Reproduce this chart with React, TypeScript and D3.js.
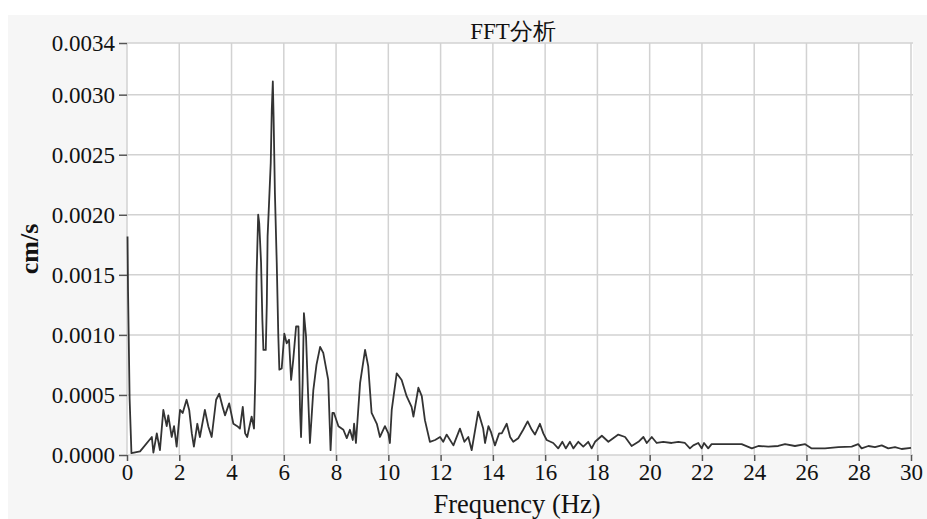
import React, { useEffect, useRef } from 'react';
import * as d3 from 'd3';

// frequency (Hz) and amplitude (cm/s)
const freq = [
  0.02, 0.04, 0.1, 0.17, 0.5, 0.95, 1.01, 1.14, 1.26, 1.39, 1.52, 1.58, 1.71, 1.8, 1.9, 2.03, 2.13, 2.28, 2.38, 2.48,
  2.56, 2.69, 2.79, 2.98, 3.11, 3.24, 3.41, 3.53, 3.66, 3.75, 3.91, 4.07, 4.22, 4.32, 4.43, 4.52, 4.6, 4.77, 4.86, 4.91,
  4.96, 5.02, 5.06, 5.13, 5.18, 5.22, 5.31, 5.35, 5.38, 5.43, 5.5, 5.54, 5.58, 5.61, 5.66, 5.73, 5.79, 5.83, 5.92, 6.02,
  6.11, 6.2, 6.28, 6.36, 6.47, 6.56, 6.62, 6.66, 6.72, 6.77, 6.85, 6.93, 7.0, 7.13, 7.25, 7.39, 7.51, 7.7, 7.79, 7.86,
  7.92, 8.09, 8.28, 8.41, 8.53, 8.64, 8.69, 8.76, 8.92, 9.11, 9.23, 9.36, 9.56, 9.68, 9.87, 10.0, 10.06, 10.13, 10.32, 10.51,
  10.7, 10.89, 10.96, 11.15, 11.28, 11.4, 11.59, 11.79, 11.98, 12.1, 12.23, 12.49, 12.74, 12.91, 13.06, 13.19, 13.44, 13.63, 13.7, 13.83,
  13.93, 14.08, 14.24, 14.34, 14.53, 14.66, 14.78, 14.97, 15.16, 15.33, 15.49, 15.61, 15.8, 15.93, 16.06, 16.31, 16.5, 16.66, 16.79, 16.95,
  17.08, 17.27, 17.46, 17.65, 17.78, 17.91, 18.17, 18.42, 18.8, 19.06, 19.31, 19.57, 19.76, 19.89, 20.08, 20.27, 20.52, 20.84, 21.1, 21.35,
  21.54, 21.67, 21.86, 21.99, 22.08, 22.24, 22.37, 22.88, 23.52, 23.91, 24.16, 24.54, 24.92, 25.18, 25.56, 25.95, 26.2, 26.71, 27.22, 27.73,
  27.98, 28.11, 28.37, 28.62, 28.88, 29.13, 29.39, 29.64, 30.0,
];
const amp = [
  18.2, 13.6, 4.7, 0.15, 0.3, 1.5, 0.2, 1.8, 0.4, 3.75, 2.4, 3.3, 1.5, 2.4, 0.7, 3.75, 3.5, 4.6, 3.75, 1.8,
  0.7, 2.6, 1.5, 3.75, 2.4, 1.5, 4.6, 5.1, 4.0, 3.3, 4.3, 2.6, 2.4, 2.2, 4.0, 1.8, 1.5, 3.2, 2.2, 6.4,
  15.1, 20.0, 19.3, 16.0, 11.25, 8.75, 8.75, 12.6, 18.2, 20.7, 24.3, 28.75, 31.1, 28.1, 21.8, 16.0, 9.9, 7.1, 7.2, 10.1,
  9.3, 9.6, 6.25, 7.9, 10.7, 10.7, 3.9, 1.5, 6.0, 11.8, 9.9, 5.0, 1.0, 5.4, 7.5, 9.0, 8.5, 6.25, 0.4, 3.5,
  3.5, 2.4, 2.1, 1.4, 2.1, 1.25, 2.6, 1.0, 6.0, 8.75, 7.4, 3.5, 2.6, 1.5, 2.4, 1.8, 1.0, 3.75, 6.8, 6.25,
  4.9, 4.0, 3.2, 5.6, 4.9, 2.9, 1.1, 1.25, 1.5, 1.1, 1.7, 0.8, 2.2, 1.1, 1.5, 0.4, 3.6, 2.2, 1.0, 2.4,
  1.9, 0.8, 1.8, 1.8, 2.6, 1.5, 1.1, 1.4, 2.1, 2.8, 2.1, 1.7, 2.6, 1.8, 1.25, 1.0, 0.55, 1.1, 0.55, 1.1,
  0.55, 1.1, 0.7, 1.1, 0.55, 1.1, 1.6, 1.1, 1.7, 1.5, 0.75, 1.1, 1.5, 1.0, 1.5, 1.0, 1.1, 1.0, 1.1, 1.0,
  0.55, 0.8, 1.0, 0.55, 1.0, 0.55, 0.9, 0.9, 0.9, 0.55, 0.75, 0.7, 0.75, 0.9, 0.75, 0.9, 0.55, 0.55, 0.65, 0.7,
  0.9, 0.55, 0.75, 0.65, 0.8, 0.55, 0.65, 0.5, 0.6,
].map((v) => v * 1e-4);

const xTicks = [0, 2, 4, 6, 8, 10, 12, 14, 16, 18, 20, 22, 24, 26, 28, 30];
const yTicks = [0, 0.0005, 0.001, 0.0015, 0.002, 0.0025, 0.003, 0.00343];

const App = () => {
  const svgRef = useRef<SVGSVGElement>(null);

  useEffect(() => {
    const svg = d3.select(svgRef.current);
    svg.selectAll('*').remove();
    const width = 927;
    const height = 519;
    const left = 127, right = 911, top = 43, bottom = 455;

    const x = d3.scaleLinear().domain([0, 30]).range([left, right]);
    const y = d3.scaleLinear().domain([0, 0.00343]).range([bottom, top]);

    svg.append('rect').attr('width', width).attr('height', height).attr('fill', '#ffffff');
    svg.append('rect').attr('x', 8).attr('y', 15).attr('width', width - 8).attr('height', height - 15).attr('fill', '#f6f6f6');
    svg.append('rect').attr('x', left).attr('y', top).attr('width', right - left + 2).attr('height', bottom - top).attr('fill', '#ffffff');

    const grid = svg.append('g').attr('stroke', '#d2d2d2').attr('stroke-width', 1.5);
    grid.selectAll('line.v')
      .data(xTicks)
      .enter()
      .append('line')
      .attr('x1', (d) => x(d)).attr('x2', (d) => x(d))
      .attr('y1', top).attr('y2', bottom);
    grid.selectAll('line.h')
      .data(yTicks)
      .enter()
      .append('line')
      .attr('x1', left).attr('x2', right + 2)
      .attr('y1', (d) => y(d)).attr('y2', (d) => y(d));

    const font = '"Liberation Serif", "Times New Roman", serif';

    const xAxis = d3.axisBottom(x).tickValues(xTicks).tickSize(6).tickPadding(3).tickFormat(d3.format('d'));
    const gx = svg.append('g').attr('transform', `translate(0,${bottom})`).call(xAxis);
    gx.select('.domain').remove();
    gx.selectAll('line').attr('stroke', '#555').attr('stroke-width', 1.5);
    gx.selectAll('text').attr('font-family', font).attr('font-size', 23).attr('fill', '#111');

    const yAxis = d3.axisLeft(y).tickValues(yTicks).tickSize(8).tickPadding(4).tickFormat(d3.format('.4f'));
    const gy = svg.append('g').attr('transform', `translate(${left},0)`).call(yAxis);
    gy.select('.domain').remove();
    gy.selectAll('line').attr('stroke', '#555').attr('stroke-width', 1.5);
    gy.selectAll('text').attr('font-family', font).attr('font-size', 23).attr('fill', '#111');

    const line = d3.line<number>()
      .x((d, i) => x(freq[i]))
      .y((d) => y(d));

    svg.append('path')
      .datum(amp)
      .attr('d', line)
      .attr('fill', 'none')
      .attr('stroke', '#333333')
      .attr('stroke-width', 1.8)
      .attr('stroke-linejoin', 'round');

    svg.append('text')
      .attr('x', 513).attr('y', 39)
      .attr('text-anchor', 'middle')
      .attr('font-family', font)
      .attr('font-size', 23)
      .attr('fill', '#111')
      .text('FFT分析');

    svg.append('text')
      .attr('x', 517).attr('y', 513)
      .attr('text-anchor', 'middle')
      .attr('font-family', font)
      .attr('font-size', 26.5)
      .attr('fill', '#111')
      .text('Frequency (Hz)');

    svg.append('text')
      .attr('transform', 'translate(38,249) rotate(-90)')
      .attr('text-anchor', 'middle')
      .attr('font-family', font)
      .attr('font-size', 26)
      .attr('font-weight', 'bold')
      .attr('fill', '#111')
      .text('cm/s');
  }, []);

  return (
    <div style={{ position: 'absolute', left: 0, top: 0 }}>
      <svg ref={svgRef} width={927} height={519} style={{ display: 'block' }} />
    </div>
  );
};

export default App;
